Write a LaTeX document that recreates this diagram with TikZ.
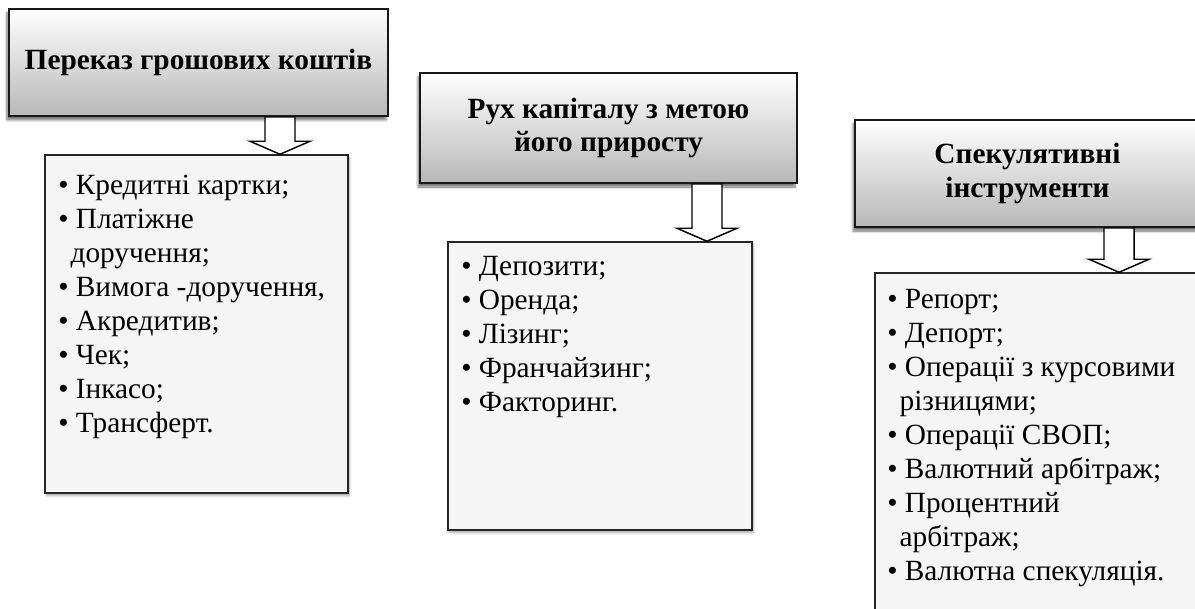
\documentclass[tikz,border=0pt]{standalone}
\usepackage{fontspec}
\setmainfont{Liberation Serif}
\usetikzlibrary{positioning, calc, fit, shadows.blur}

% down-pointing block arrow from #1 (top of shaft) to #2 (tip)
\newcommand{\fatdown}[2]{%
  \draw[fatarrow] ($(#1)+(-15,0)$) -- ($(#1)+(15,0)$) -- ($(#2)+(15,-13)$)
    -- ($(#2)+(30,-13)$) -- (#2) -- ($(#2)+(-30,-13)$) -- ($(#2)+(-15,-13)$) -- cycle;}

\begin{document}
\begin{tikzpicture}[
    x=0.75pt, y=-0.75pt,
    every node/.style={font=\fontsize{22}{25.5}\selectfont},
    % Header: shaded box with shadow
    headbox/.style={draw=black!90, line width=1.5pt, top color=white, bottom color=black!28,
        inner sep=0pt, align=center, font=\fontsize{22}{25}\selectfont\bfseries,
        blur shadow={shadow xshift=-1.5pt, shadow yshift=-3pt, shadow blur steps=6, shadow opacity=55}},
    % List box: light grey, thin border
    listbox/.style={draw=black!85, line width=1.1pt, fill=black!4, inner sep=0pt,
        blur shadow={shadow xshift=1pt, shadow yshift=-2pt, shadow blur steps=4, shadow opacity=35}},
    % Bullet list text
    items/.style={align=left, anchor=north west, inner sep=0pt},
    % Block arrow
    fatarrow/.style={draw=black, line width=1.1pt, fill=white, line join=miter},
]
\useasboundingbox (0,0) rectangle (1195,609);
\clip (0,0) rectangle (1195,609);

% ====================================================
% HEADERS
% ====================================================
\node[headbox, minimum width=284.25pt, minimum height=80.25pt] (h-money) at (198.5,62.5) {Переказ грошових коштів};
\node[headbox, minimum width=282.75pt, minimum height=82.5pt] (h-capital) at (608.5,128) {Рух капіталу з метою\\його приросту};
\node[headbox, minimum width=258.75pt, minimum height=80.25pt] (h-spec) at (1027.5,173.5) {Спекулятивні\\інструменти};

% ====================================================
% LISTS
% ====================================================
\node[listbox, fit={(45,155) (348,493)}] (l-money) {};
\node[listbox, fit={(448,242) (752,530)}] (l-capital) {};
\node[listbox, fit={(875,273) (1200,625)}] (l-spec) {};

\node[items] (t-money) at (58,175) {• Кредитні картки;\\• Платіжне\\\hspace*{0.42em}доручення;\\• Вимога -доручення,\\• Акредитив;\\• Чек;\\• Інкасо;\\• Трансферт.};
\node[items] (t-capital) at (461,256) {• Депозити;\\• Оренда;\\• Лізинг;\\• Франчайзинг;\\• Факторинг.};
\node[items] (t-spec) at (887,289) {• Репорт;\\• Депорт;\\• Операції з курсовими\\\hspace*{0.42em}різницями;\\• Операції СВОП;\\• Валютний арбітраж;\\• Процентний\\\hspace*{0.42em}арбітраж;\\• Валютна спекуляція.};

% ====================================================
% ARROWS
% ====================================================
\coordinate (a-money) at (280,0);
\coordinate (a-capital) at (707,0);
\coordinate (a-spec) at (1119,0);

\fatdown{a-money |- h-money.south}{a-money |- l-money.north}
\fatdown{a-capital |- h-capital.south}{a-capital |- l-capital.north}
\fatdown{a-spec |- h-spec.south}{a-spec |- l-spec.north}

\end{tikzpicture}
\end{document}
